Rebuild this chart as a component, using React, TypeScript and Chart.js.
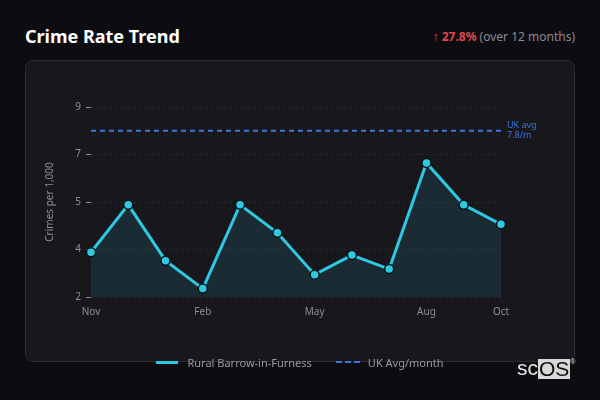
import React, { useEffect, useRef } from "react";
import { Chart, registerables } from "chart.js";

Chart.register(...registerables);

const months = ["Nov", "Dec", "Jan", "Feb", "Mar", "Apr", "May", "Jun", "Jul", "Aug", "Sep", "Oct"];
const shownMonths = ["Nov", "Feb", "May", "Aug", "Oct"];
const ruralValues = [3.6, 5.3, 3.3, 2.3, 5.3, 4.3, 2.8, 3.5, 3.0, 6.8, 5.3, 4.6];
const ukAvgSeries = [7.95, 7.95, 7.95, 7.95, 7.95, 7.95, 7.95, 7.95, 7.95, 7.95, 7.95, 7.95];
const ukAvgLabel = ["UK avg", "7.8/m"];
const seriesNames = ["Rural Barrow-in-Furness", "UK Avg/month"];
const yMin = 2;
const yMax = 8.8;
const yStep = 1.7;

const FONT = "'Noto Sans', 'Open Sans', sans-serif";
const CYAN = "#2ec8e2";
const BLUE = "#3d74d8";

const ukLabelPlugin = {
  id: "ukLabel",
  afterDatasetsDraw(chart: any) {
    const { ctx, chartArea, scales } = chart;
    const y = scales.y.getPixelForValue(ukAvgSeries[ukAvgSeries.length - 1]);
    ctx.save();
    ctx.fillStyle = BLUE;
    ctx.font = `9px ${FONT}`;
    ctx.textAlign = "left";
    ctx.textBaseline = "middle";
    ctx.fillText(ukAvgLabel[0], chartArea.right + 6, y - 5);
    ctx.fillText(ukAvgLabel[1], chartArea.right + 6, y + 5);
    ctx.restore();
  },
};

function TrendChart() {
  const ref = useRef<HTMLCanvasElement | null>(null);
  useEffect(() => {
    if (!ref.current) return;
    const chart = new Chart(ref.current, {
      type: "line",
      data: {
        labels: months,
        datasets: [
          {
            label: seriesNames[0],
            data: ruralValues,
            borderColor: CYAN,
            backgroundColor: "rgba(38, 120, 135, 0.22)",
            borderWidth: 3,
            fill: "start",
            tension: 0,
            pointRadius: 4.5,
            pointBackgroundColor: CYAN,
            pointBorderColor: "#0c161a",
            pointBorderWidth: 1.5,
          },
          {
            label: seriesNames[1],
            data: ukAvgSeries,
            borderColor: BLUE,
            backgroundColor: BLUE,
            borderWidth: 2,
            borderDash: [5, 4],
            pointRadius: 0,
            fill: false,
          },
        ],
      },
      options: {
        animation: false,
        responsive: false,
        maintainAspectRatio: false,
        layout: { padding: { left: 40, right: 99, top: 107, bottom: 53 } },
        plugins: {
          legend: { display: false },
          tooltip: { enabled: false },
        },
        scales: {
          x: {
            grid: { display: false, drawTicks: false },
            border: { display: false },
            ticks: {
              color: "#8e8e96",
              font: { family: FONT, size: 10 },
              padding: 9,
              autoSkip: false,
              maxRotation: 0,
              callback: (_v: any, i: number) => (shownMonths.includes(months[i]) ? months[i] : ""),
            },
            afterFit: (s: any) => {
              s.height = 50;
            },
          },
          y: {
            min: yMin,
            max: yMax,
            grid: {
              color: "rgba(255,255,255,0.07)",
              tickColor: "#8e8e96",
              tickLength: 5,
              tickBorderDash: [],
            },
            border: { display: false, dash: [3, 3] },
            ticks: {
              stepSize: yStep,
              color: "#8e8e96",
              font: { family: FONT, size: 10 },
              padding: 5,
              callback: (v: any) => Number(v).toFixed(0),
            },
            title: {
              display: true,
              text: "Crimes per 1,000",
              color: "#8e8e96",
              font: { family: FONT, size: 10 },
            },
            afterFit: (s: any) => {
              s.width = 51;
            },
          },
        },
      },
      plugins: [ukLabelPlugin],
    } as any);
    return () => chart.destroy();
  }, []);
  return (
    <canvas
      ref={ref}
      width={600}
      height={400}
      style={{ position: "absolute", left: 0, top: 0, width: 600, height: 400 }}
    />
  );
}

function Legend() {
  const text: React.CSSProperties = { fontSize: 11, color: "#9a9aa2", whiteSpace: "nowrap" };
  return (
    <div
      style={{
        position: "absolute",
        left: 0,
        width: 600,
        top: 354,
        height: 16,
        display: "flex",
        justifyContent: "center",
        alignItems: "center",
        fontFamily: FONT,
      }}
    >
      <span style={{ width: 22, height: 0, borderTop: `3px solid ${CYAN}`, marginRight: 9 }} />
      <span style={text}>{seriesNames[0]}</span>
      <span style={{ width: 24, height: 0, borderTop: `2.5px dashed ${BLUE}`, marginLeft: 24, marginRight: 8 }} />
      <span style={text}>{seriesNames[1]}</span>
    </div>
  );
}

export default function App() {
  return (
    <div
      style={{
        position: "fixed",
        left: 0,
        top: 0,
        width: 600,
        height: 400,
        background: "#0d0c11",
        fontFamily: FONT,
        overflow: "hidden",
      }}
    >
      <div
        style={{
          position: "absolute",
          left: 25,
          top: 24,
          fontSize: 18,
          fontWeight: 700,
          color: "#ffffff",
        }}
      >
        Crime Rate Trend
      </div>
      <div
        style={{
          position: "absolute",
          right: 25,
          top: 28,
          fontSize: 12,
          color: "#8a8a92",
          whiteSpace: "nowrap",
        }}
      >
        <span style={{ color: "#e04848" }}>↑ </span>
        <span style={{ color: "#e04848", fontWeight: 700 }}>27.8%</span> (over 12 months)
      </div>
      <div
        style={{
          position: "absolute",
          left: 25,
          top: 60,
          width: 548,
          height: 300,
          border: "1px solid #2c2b31",
          borderRadius: 8,
          background: "#18171c",
        }}
      />
      <TrendChart />
      <Legend />
      <div
        style={{
          position: "absolute",
          left: 517,
          top: 356,
          fontFamily: "'Liberation Sans', Arial, sans-serif",
          fontSize: 21,
          fontWeight: 400,
          color: "#e8e8e8",
          display: "flex",
          alignItems: "flex-start",
          lineHeight: "24px",
        }}
      >
        <span>sc</span>
        <span style={{ background: "#d8d8d8", color: "#0d0c11", padding: "0 1px", lineHeight: "20px", marginTop: 3 }}>OS</span>
        <span style={{ fontSize: 7, lineHeight: "8px", marginTop: 2 }}>®</span>
      </div>
    </div>
  );
}
